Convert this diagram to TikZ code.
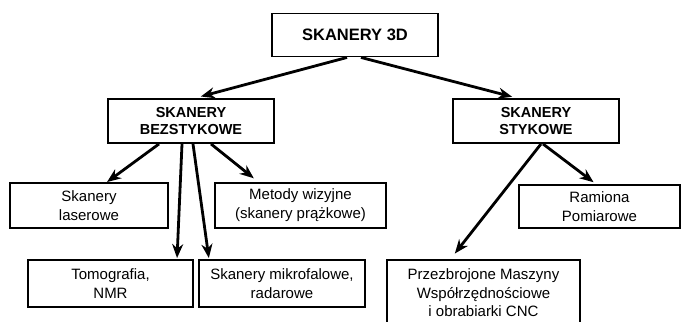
\documentclass[tikz,border=0pt]{standalone}
\usepackage{fontspec}
\setmainfont{Liberation Sans}
\usetikzlibrary{arrows.meta}
\begin{document}
\begin{tikzpicture}[x=1pt,y=-1pt,
  box/.style={draw,line width=1.9pt,rectangle,align=center,inner sep=0pt},
  head/.style={box,font=\fontsize{14.5}{17.5}\selectfont\bfseries},
  leaf/.style={box,font=\fontsize{15}{19}\selectfont},
  arr/.style={line width=2.8pt,-{Stealth[length=14pt,width=11pt,inset=4.5pt]}}]
\fill[white] (0,0) rectangle (682,321);
\useasboundingbox (0,0) rectangle (682,321);
\clip (0,0) rectangle (682,321);
\node[box,font=\fontsize{16.5}{19}\selectfont\bfseries,minimum width=166pt,minimum height=43pt] (top) at (355,35) {SKANERY 3D};
\node[head,minimum width=166pt,minimum height=44pt] (bez) at (191,121) {SKANERY\\BEZSTYKOWE};
\node[head,minimum width=166pt,minimum height=44pt] (sty) at (536,121) {SKANERY\\STYKOWE};
\node[leaf,minimum width=158pt,minimum height=45pt] (las) at (89,205.5) {Skanery\\laserowe};
\node[leaf,minimum width=171pt,minimum height=45pt] (met) at (300.5,205.5) {Metody wizyjne\\(skanery prążkowe)};
\node[leaf,minimum width=161pt,minimum height=43pt] (ram) at (599.5,206.5) {Ramiona\\Pomiarowe};
\node[leaf,minimum width=165pt,minimum height=47pt] (tom) at (110.5,283.5) {Tomografia,\\NMR};
\node[leaf,minimum width=166pt,minimum height=47pt] (mik) at (282,283.5) {Skanery mikrofalowe,\\radarowe};
\node[box,font=\fontsize{15}{18.5}\selectfont,minimum width=193pt,minimum height=66pt] (prz) at (483.5,293) {Przezbrojone Maszyny\\Współrzędnościowe\\i obrabiarki CNC};
\draw[arr,shorten >=6pt] ([xshift=-8pt]top.south) -- ([xshift=4pt]bez.north);
\draw[arr,shorten >=5pt] ([xshift=6pt]top.south) -- ([xshift=-19pt]sty.north);
\draw[arr] ([xshift=-32pt]bez.south) -- ([xshift=18pt]las.north);
\draw[arr,shorten >=1pt] ([xshift=-9pt]bez.south) -- ([xshift=66.5pt]tom.north);
\draw[arr,shorten >=1pt] ([xshift=2pt]bez.south) -- ([xshift=-73pt]mik.north);
\draw[arr,shorten >=6pt] ([xshift=20pt]bez.south) -- ([xshift=-42pt]met.north);
\draw[arr,shorten >=7pt] ([xshift=5pt]sty.south) -- ([xshift=-33pt]prz.north);
\draw[arr,shorten >=3pt] ([xshift=7pt]sty.south) -- ([xshift=-3.5pt]ram.north);
\end{tikzpicture}
\end{document}
